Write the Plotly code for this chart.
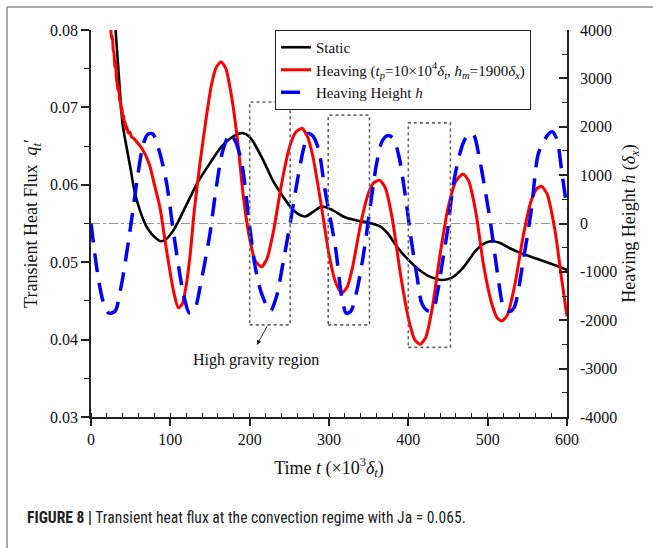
import plotly.graph_objects as go

# ---------------- data ----------------
t_static = [31, 35, 40, 45, 50, 55, 62, 69, 76, 82, 88, 95, 105, 115, 125, 135, 150, 165, 180, 191,
            200, 217, 230, 242, 251, 260, 270, 280, 291, 305, 320, 335, 350, 365, 375, 385, 400, 414,
            428, 442, 455, 470, 485, 497, 505, 515, 528, 541, 560, 580, 600]
q_static = [0.0800, 0.0742, 0.0677, 0.0648, 0.0620, 0.0591, 0.0566, 0.0548, 0.0537, 0.0531, 0.0527,
            0.0530, 0.0543, 0.0563, 0.0584, 0.0604, 0.0628, 0.0650, 0.0663, 0.0667, 0.0662, 0.0632,
            0.0604, 0.0585, 0.0572, 0.0563, 0.0559, 0.0565, 0.0572, 0.0567, 0.0558, 0.0554, 0.0551,
            0.0546, 0.0536, 0.0521, 0.0503, 0.0490, 0.0481, 0.0477, 0.0480, 0.0494, 0.0515, 0.0525,
            0.0527, 0.0525, 0.0518, 0.0512, 0.0505, 0.0498, 0.0490]

t_heave = [25, 26, 27, 28, 29, 30, 31, 32, 33, 34, 35, 36, 37, 38, 39, 40, 41, 42, 43, 44, 45, 47, 49,
           51, 54, 58, 62, 68, 74, 80, 87, 93, 100, 105, 110, 115, 120, 125, 130, 137, 145, 152, 158,
           164, 170, 177, 185, 192, 200, 207, 215, 222, 230, 240, 250, 258, 266, 273, 280, 290, 300,
           308, 316, 323, 330, 340, 350, 357, 364, 371, 380, 390, 400, 408, 415, 422, 430, 440, 450,
           460, 469, 476, 485, 495, 505, 512, 518, 525, 535, 545, 555, 562, 568, 575, 585, 593, 600]
q_heave = [0.0800, 0.0788, 0.0792, 0.0774, 0.0770, 0.0752, 0.0760, 0.0738, 0.0731, 0.0722, 0.0728,
           0.0708, 0.0712, 0.0695, 0.0700, 0.0686, 0.0690, 0.0678, 0.0681, 0.0672, 0.0675, 0.0667,
           0.0668, 0.0662, 0.0660, 0.0655, 0.0650, 0.0640, 0.0625, 0.0600, 0.0570, 0.0530, 0.0485,
           0.0458, 0.0441, 0.0446, 0.0470, 0.0510, 0.0565, 0.0625, 0.0685, 0.0730, 0.0752, 0.0759,
           0.0750, 0.0715, 0.0655, 0.0585, 0.0530, 0.0502, 0.0494, 0.0505, 0.0540, 0.0600, 0.0648,
           0.0668, 0.0673, 0.0662, 0.0635, 0.0575, 0.0510, 0.0475, 0.0460, 0.0468, 0.0495, 0.0550,
           0.0590, 0.0603, 0.0606, 0.0596, 0.0555, 0.0485, 0.0428, 0.0400, 0.0394, 0.0403, 0.0440,
           0.0510, 0.0570, 0.0605, 0.0614, 0.0605, 0.0565, 0.0495, 0.0447, 0.0428, 0.0424, 0.0432,
           0.0475, 0.0535, 0.0580, 0.0595, 0.0598, 0.0588, 0.0540, 0.0480, 0.0430]

t_height = [0, 8, 15, 22, 30, 38, 49, 59, 66, 72, 78, 86, 95, 105, 116, 124, 130, 140, 150, 158, 166,
            175, 182, 190, 200, 207, 215, 226, 234, 242, 251, 261, 268, 274, 280, 287, 295, 308, 316,
            322, 328, 335, 343, 352, 360, 367, 374, 381, 388, 396, 404, 411, 417, 424, 431, 437, 444,
            450, 455, 461, 469, 476, 482, 490, 503, 513, 520, 527, 533, 545, 555, 564, 574, 581, 587,
            594, 600]
h_height = [0, -1000, -1600, -1850, -1820, -1300, -170, 1000, 1650, 1850, 1850, 1500, 860, -300, -1410,
            -1850, -1800, -1100, -200, 760, 1500, 1850, 1700, 1250, -60, -900, -1450, -1810, -1500,
            -820, 0, 970, 1550, 1860, 1800, 1520, 690, -480, -1510, -1860, -1800, -1400, -690, 350,
            1240, 1700, 1820, 1760, 1400, 600, -380, -1100, -1650, -1800, -1790, -1400, -690, -80,
            620, 1170, 1660, 1850, 1840, 1310, 70, -1100, -1720, -1820, -1750, -750, 280, 1450, 1790,
            1900, 1750, 1000, 300]

# high gravity regions [t0, t1, q_bottom, q_top]
regions = [[200, 251, 0.0419, 0.0707], [299, 351, 0.0419, 0.0690], [400, 453, 0.0390, 0.0680]]

x_ticks = [0, 100, 200, 300, 400, 500, 600]
y_ticks = [0.03, 0.04, 0.05, 0.06, 0.07, 0.08]
y_text = ["0.03", "0.04", "0.05", "0.06", "0.07", "0.08"]
y2_ticks = [-4000, -3000, -2000, -1000, 0, 1000, 2000, 3000, 4000]
y2_text = ["-4000", "-3000", "-2000", "-1000", "0", "1000", "2000", "3000", "4000"]

SERIF = "Liberation Serif"
TICKFONT = dict(family=SERIF, size=16, color="#111")

fig = go.Figure()

fig.add_trace(go.Scatter(x=t_static, y=q_static, mode="lines", name="Static",
                         line=dict(color="black", width=2.6, shape="spline", smoothing=0.8)))
fig.add_trace(go.Scatter(x=t_heave, y=q_heave, mode="lines",
                         name="Heaving (<i>t<sub>p</sub></i>=10×10<sup>4</sup><i>δ<sub>t</sub></i>, "
                              "<i>h<sub>m</sub></i>=1900<i>δ<sub>x</sub></i>)",
                         line=dict(color="#ff0000", width=3, shape="spline", smoothing=0.6)))
fig.add_trace(go.Scatter(x=t_height, y=h_height, mode="lines", name="Heaving Height <i>h</i>",
                         yaxis="y2",
                         line=dict(color="#0000ff", width=3.5, dash="19px,11px", shape="spline",
                                   smoothing=0.8)))

shapes = []
# reference dash-dot zero line
shapes.append(dict(type="line", xref="paper", yref="y2", x0=0, x1=1, y0=0, y1=0,
                   line=dict(color="#999999", width=1.2, dash="dashdot"), layer="below"))
for r in regions:
    shapes.append(dict(type="rect", xref="x", yref="y", x0=r[0], x1=r[1], y0=r[2], y1=r[3],
                       line=dict(color="#666666", width=1.6, dash="dot")))
# outer figure frame (top and left)
shapes.append(dict(type="line", xref="paper", yref="paper", x0=-0.1765, x1=1.2, y0=1.0594, y1=1.0594,
                   line=dict(color="#8c8c8c", width=1.5)))
shapes.append(dict(type="line", xref="paper", yref="paper", x0=-0.1765, x1=-0.1765, y0=-0.4, y1=1.0594,
                   line=dict(color="#8c8c8c", width=1.5)))

annotations = [
    dict(x=209, y=0.0393, ax=223, ay=0.0419, xref="x", yref="y", axref="x", ayref="y",
         text="", showarrow=True, arrowhead=2, arrowsize=1, arrowwidth=1, arrowcolor="#222"),
    dict(x=208, y=0.0374, xref="x", yref="y", text="High gravity region", showarrow=False,
         font=dict(family=SERIF, size=16, color="#111")),
    dict(x=-0.139, y=-0.262, xref="paper", yref="paper", xanchor="left", yanchor="middle",
         text="<b>FIGURE 8 |</b> Transient heat flux at the convection regime with Ja = 0.065.",
         showarrow=False,
         font=dict(family="Arial Narrow, Roboto Condensed, Liberation Sans Narrow, sans-serif",
                   size=15.6, color="#222")),
]

fig.update_layout(
    width=653, height=548,
    margin=dict(l=91, r=86, t=30, b=131, autoexpand=False),
    paper_bgcolor="white", plot_bgcolor="white",
    font=dict(family=SERIF, size=15, color="#111"),
    showlegend=True,
    legend=dict(x=0.3866, y=1.0, xanchor="left", yanchor="top", bgcolor="white",
                bordercolor="#222", borderwidth=1, font=dict(family=SERIF, size=15),
                tracegroupgap=0, itemwidth=30),
    xaxis=dict(range=[0, 600], tickvals=x_ticks, ticktext=[str(v) for v in x_ticks],
               showgrid=False, zeroline=False,
               showline=True, linecolor="#222", linewidth=1.5, ticks="outside", ticklen=7,
               tickwidth=1.5, tickcolor="#222",
               minor=dict(dtick=20, ticks="inside", ticklen=4, tickwidth=1, tickcolor="#222"),
               tickfont=TICKFONT,
               title=dict(text="Time <i>t</i> (×10<sup>3</sup><i>δ<sub>t</sub></i>)",
                          font=dict(family=SERIF, size=18), standoff=14)),
    yaxis=dict(range=[0.03, 0.08], tickvals=y_ticks, ticktext=y_text, showgrid=False,
               zeroline=False, showline=True, linecolor="#222", linewidth=1.5, ticks="outside",
               ticklen=8, tickwidth=1.5, tickcolor="#222",
               minor=dict(dtick=0.005, ticks="outside", ticklen=5, tickwidth=1, tickcolor="#222"),
               tickfont=TICKFONT,
               title=dict(text="Transient Heat Flux  <i>q<sub>t</sub></i>′",
                          font=dict(family=SERIF, size=18), standoff=8)),
    yaxis2=dict(range=[-4000, 4000], overlaying="y", side="right", tickvals=y2_ticks,
                ticktext=y2_text, showgrid=False, zeroline=False, showline=True,
                linecolor="#222", linewidth=1.5, ticks="inside", ticklen=8, tickwidth=1.5,
                tickcolor="#222",
                minor=dict(dtick=500, ticks="inside", ticklen=5, tickwidth=1, tickcolor="#222"),
                tickfont=TICKFONT, ticklabelstandoff=8,
                title=dict(text="Heaving Height <i>h</i> (<i>δ<sub>x</sub></i>)",
                           font=dict(family=SERIF, size=18), standoff=6)),
    shapes=shapes,
    annotations=annotations,
)

fig.write_html("out.html")
